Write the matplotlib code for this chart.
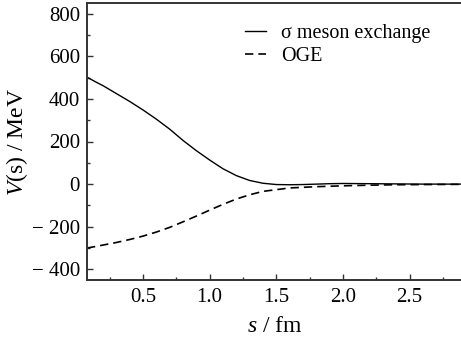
import matplotlib
matplotlib.use("Agg")
import matplotlib.pyplot as plt
from matplotlib.ticker import MultipleLocator, FuncFormatter

plt.rcParams['font.family'] = ['Liberation Serif', 'DejaVu Serif']
plt.rcParams['mathtext.fontset'] = 'custom'
plt.rcParams['mathtext.rm'] = 'Liberation Serif'
plt.rcParams['mathtext.it'] = 'Liberation Serif:italic'

s = [0.08, 0.15, 0.2, 0.3, 0.4, 0.5, 0.6, 0.7, 0.8, 0.9, 1.0, 1.1, 1.2, 1.3,
     1.4, 1.5, 1.6, 1.7, 1.8, 1.9, 2.0, 2.2, 2.4, 2.6, 2.9]
v_sigma = [502, 478, 462, 425, 388, 348, 305, 258, 205, 157, 113, 72, 40, 17,
           4, -2, -3, -2, 0, 2, 3, 2, 1, 0, 0]
v_oge = [-300, -292, -286, -274, -260, -244, -225, -203, -177, -150, -122, -95,
         -70, -50, -34, -26, -18, -15, -12, -10, -8, -5, -3, -2, -1]

xlabel = r'$s$ / fm'
ylabel = r'$V$(s) / MeV'
legend_labels = ['\u03c3 meson exchange', 'OGE']

fig = plt.figure(figsize=(4.61, 3.40), dpi=100)
ax = fig.add_axes([87/461, 60/340, 376/461, 277/340])

ax.plot(s, v_sigma, color='black', lw=1.0, label=legend_labels[0])
ax.plot(s, v_oge, color='black', lw=1.2, dashes=(5, 3), label=legend_labels[1])

ax.set_xlim(0.08, 2.9)
ax.set_ylim(-450, 850)
ax.xaxis.set_major_locator(MultipleLocator(0.5))
ax.xaxis.set_minor_locator(MultipleLocator(0.25))
ax.yaxis.set_major_locator(MultipleLocator(200))
ax.yaxis.set_minor_locator(MultipleLocator(100))

def yfmt(v, pos):
    v = int(round(v))
    return ('\u2212 %d' % -v) if v < 0 else '%d' % v

ax.yaxis.set_major_formatter(FuncFormatter(yfmt))
ax.xaxis.set_major_formatter(FuncFormatter(lambda v, p: '%.1f' % v))

ax.tick_params(which='both', direction='in', labelsize=15, width=1.0, color='#333333')
ax.tick_params(which='major', length=4.5, pad=5)
ax.tick_params(which='minor', length=2.5)
ax.tick_params(axis='x', pad=6)

for side in ['left', 'top', 'bottom']:
    ax.spines[side].set_linewidth(1.4)
    ax.spines[side].set_color('#333333')
ax.spines['right'].set_visible(False)

ax.set_xlabel(xlabel, fontsize=17, labelpad=6)
ax.set_ylabel(ylabel, fontsize=17, labelpad=1)

leg = ax.legend(loc='upper left', bbox_to_anchor=(0.40, 0.955), frameon=False,
                fontsize=14.5, handlelength=1.0, handletextpad=0.75,
                labelspacing=0.2, borderaxespad=0)

fig.savefig('out.png', dpi=100)
